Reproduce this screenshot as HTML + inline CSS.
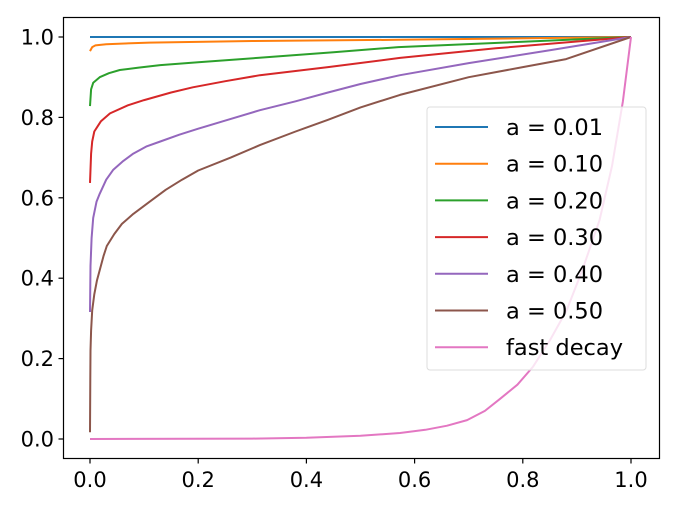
<!DOCTYPE html>
<html><head><meta charset="utf-8"><style>
html,body{margin:0;padding:0;background:#fff;}
svg{display:block;font-family:"DejaVu Sans","Liberation Sans",sans-serif;}
</style></head><body>
<svg id="chart" width="677" height="508" viewBox="0 0 677 508" xmlns="http://www.w3.org/2000/svg">
<rect x="63.5" y="17.5" width="596" height="441" fill="none" stroke="#000" stroke-width="1.2"/>
<g id="ticks"></g>
<g id="series"></g>
<g id="legend"></g>
</svg>
<script>
const xTicks=[0.0,0.2,0.4,0.6,0.8,1.0];
const yTicks=[0.0,0.2,0.4,0.6,0.8,1.0];
const tickLabels=["0.0","0.2","0.4","0.6","0.8","1.0"];
const seriesNames=["a = 0.01","a = 0.10","a = 0.20","a = 0.30","a = 0.40","a = 0.50","fast decay"];
const colors=["#1f77b4","#ff7f0e","#2ca02c","#d62728","#9467bd","#8c564b","#e377c2"];
const xs01=[0,1];
const ys01=[1,1];
const xs10=[0,0.004,0.01,0.03,0.11,0.3,0.57,1];
const ys10=[0.965,0.975,0.979,0.982,0.986,0.99,0.993,1];
const xs20=[0,0.002,0.006,0.018,0.035,0.055,0.09,0.13,0.2,0.31,0.45,0.57,0.8,1];
const ys20=[0.828,0.87,0.886,0.9,0.91,0.918,0.924,0.93,0.937,0.948,0.962,0.975,0.988,1];
const xs30=[0,0.002,0.004,0.008,0.02,0.037,0.07,0.1,0.15,0.19,0.25,0.314,0.44,0.573,0.75,1];
const ys30=[0.637,0.71,0.74,0.765,0.79,0.81,0.83,0.843,0.862,0.875,0.89,0.905,0.925,0.948,0.972,1];
const xs40=[0,0.001,0.003,0.006,0.012,0.018,0.03,0.043,0.06,0.08,0.105,0.13,0.165,0.2,0.25,0.314,0.38,0.44,0.5,0.573,0.7,0.85,1];
const ys40=[0.316,0.43,0.5,0.55,0.59,0.61,0.645,0.67,0.69,0.71,0.728,0.74,0.757,0.772,0.792,0.818,0.84,0.862,0.883,0.905,0.935,0.967,1];
const xs50=[0,0.0005,0.001,0.002,0.004,0.008,0.013,0.018,0.025,0.031,0.045,0.059,0.08,0.11,0.14,0.17,0.2,0.26,0.314,0.38,0.44,0.5,0.573,0.7,0.8,0.88,1];
const ys50=[0.017,0.15,0.22,0.27,0.32,0.36,0.395,0.42,0.455,0.48,0.51,0.535,0.56,0.59,0.62,0.645,0.668,0.70,0.731,0.765,0.794,0.825,0.856,0.9,0.925,0.945,1];
const xsFast=[0,0.3,0.4,0.5,0.573,0.62,0.66,0.697,0.73,0.758,0.79,0.819,0.85,0.881,0.91,0.942,0.965,0.985,1];
const ysFast=[0,0.001,0.003,0.008,0.015,0.023,0.033,0.047,0.07,0.1,0.135,0.18,0.245,0.32,0.42,0.545,0.68,0.84,1];
const allX=[xs01,xs10,xs20,xs30,xs40,xs50,xsFast];
const allY=[ys01,ys10,ys20,ys30,ys40,ys50,ysFast];
const NS="http://www.w3.org/2000/svg";
function sx(v){return 90+v*541;}
function sy(v){return 439-v*402;}
function mk(t,a,p){const e=document.createElementNS(NS,t);for(const k in a)e.setAttribute(k,a[k]);p.appendChild(e);return e;}
const tg=document.getElementById('ticks');
xTicks.forEach((v,i)=>{
 const l=mk('line',{x1:sx(v),x2:sx(v),y1:458.5,y2:463.5,stroke:'#000','stroke-width':1.2},tg);
 
 
 const t=mk('text',{x:sx(v),y:487,'text-anchor':'middle','font-size':21},tg);
 t.textContent=tickLabels[i];
 
 
});
yTicks.forEach((v,i)=>{
 const l=mk('line',{x1:58.5,x2:63.5,y1:sy(v),y2:sy(v),stroke:'#000','stroke-width':1.2},tg);
 
 
 const t=mk('text',{x:54,y:sy(v)+7.5,'text-anchor':'end','font-size':21},tg);
 t.textContent=tickLabels[i];
 
 
});
const sg=document.getElementById('series');
allX.forEach((xs,i)=>{
 const d=xs.map((x,j)=>(j?'L':'M')+sx(x).toFixed(1)+','+sy(allY[i][j]).toFixed(1)).join(' ');
 const p=mk('path',{d:d,fill:'none',stroke:colors[i],'stroke-width':2,'stroke-linejoin':'round'},sg);
 
 
});
const lg=document.getElementById('legend');
const box=mk('rect',{x:427,y:107,width:219,height:263,rx:3,fill:'#fff','fill-opacity':0.8,stroke:'#ddd'},lg);


seriesNames.forEach((n,i)=>{
 const y=127+i*36.7;
 const l=mk('line',{x1:435,x2:488,y1:y,y2:y,stroke:colors[i],'stroke-width':2},lg);
 
 
 const t=mk('text',{x:506,y:y+8,'font-size':22.5},lg);
 t.textContent=n;
 
 
});
</script>
</body></html>
